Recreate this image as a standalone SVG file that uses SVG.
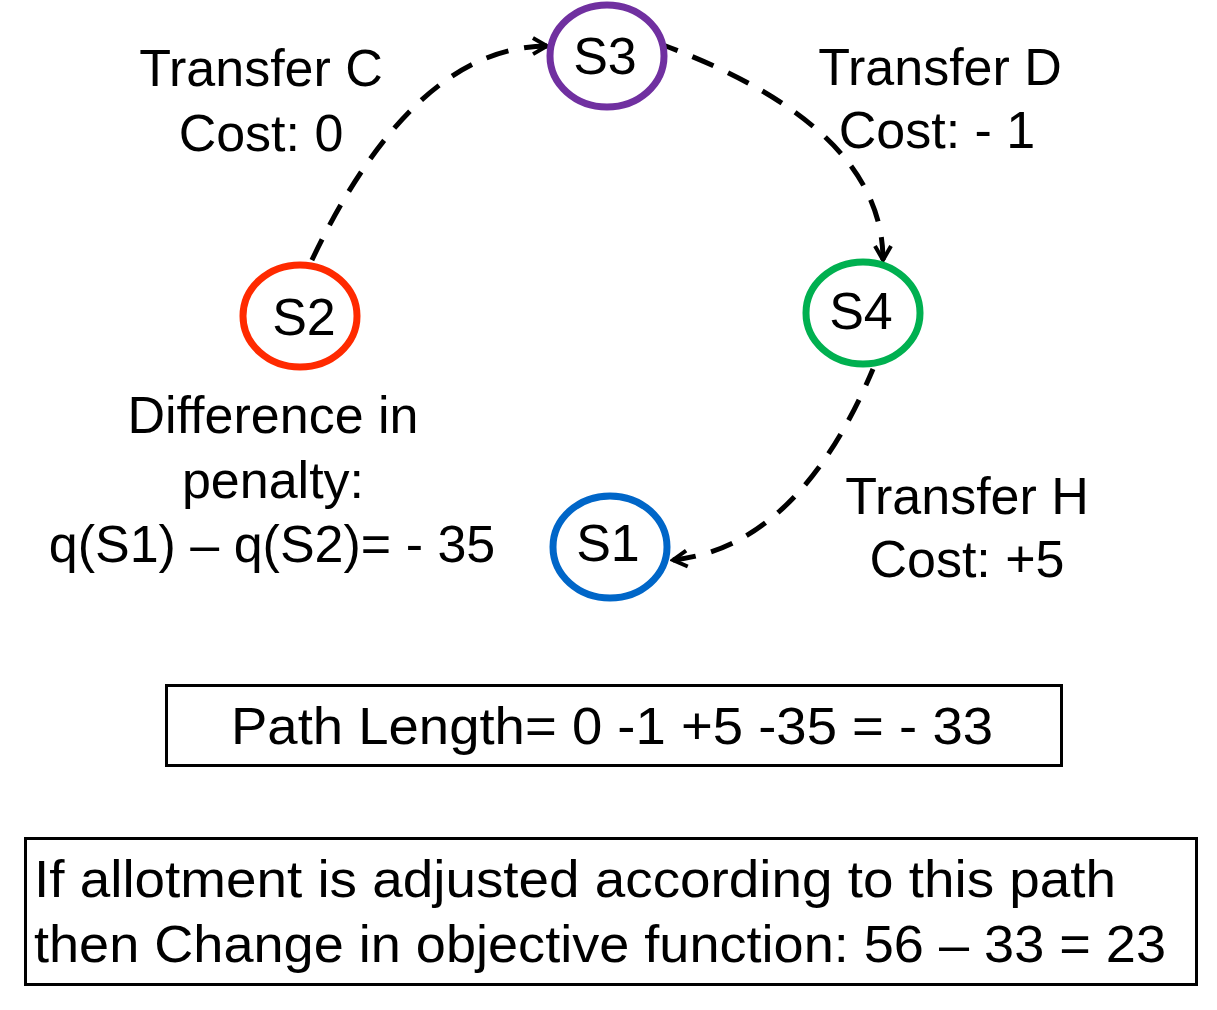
<svg xmlns="http://www.w3.org/2000/svg" width="1217" height="1010" viewBox="0 0 1217 1010">
  <defs>
    <style>
      text { font-family: "Liberation Sans", Arial, Helvetica, sans-serif; fill: #000; }
      .lbl { font-size: 52px; text-anchor: middle; }
      .node { font-size: 52px; text-anchor: middle; }
      .box-text { font-size: 52px; }
      .ring { fill: #fff; stroke-width: 7; }
      .edge { fill: none; stroke: #000; stroke-width: 5; stroke-dasharray: 23 16; marker-start: url(#arrow); }
      .box { fill: #fff; stroke: #000; stroke-width: 3; }
    </style>
    <marker id="arrow" markerUnits="userSpaceOnUse" markerWidth="22" markerHeight="22" viewBox="0 0 22 22" refX="19" refY="11" orient="auto-start-reverse">
      <path d="M5,3 L19,11 L5,19" fill="none" stroke="#000" stroke-width="4" stroke-linejoin="miter"/>
    </marker>
  </defs>

  <g id="connectors">
    <path class="edge" d="M547,46 Q413,47 311,262"/>
    <path class="edge" d="M883,260 Q883,127 663,45"/>
    <path class="edge" d="M673,560 Q798,547 873,369"/>
  </g>

  <g id="node-S3">
    <ellipse class="ring" cx="607" cy="56" rx="57" ry="51" stroke="#7030A0"/>
    <text class="node" x="605" y="74">S3</text>
  </g>
  <g id="node-S2">
    <ellipse class="ring" cx="300" cy="316" rx="57" ry="51" stroke="#FF2A00"/>
    <text class="node" x="304" y="335">S2</text>
  </g>
  <g id="node-S4">
    <ellipse class="ring" cx="863" cy="313" rx="57" ry="51" stroke="#00B050"/>
    <text class="node" x="861" y="329">S4</text>
  </g>
  <g id="node-S1">
    <ellipse class="ring" cx="610" cy="547" rx="57" ry="51" stroke="#0066C8"/>
    <text class="node" x="608" y="561">S1</text>
  </g>

  <g id="label-C">
    <text class="lbl" x="261" y="86">Transfer C</text>
    <text class="lbl" x="261" y="151">Cost: 0</text>
  </g>
  <g id="label-D">
    <text class="lbl" x="940" y="85">Transfer D</text>
    <text class="lbl" x="937" y="148">Cost: - 1</text>
  </g>
  <g id="label-H">
    <text class="lbl" x="967" y="514">Transfer H</text>
    <text class="lbl" x="967" y="577">Cost: +5</text>
  </g>
  <g id="label-penalty">
    <text class="lbl" x="273" y="433">Difference in</text>
    <text class="lbl" x="273" y="498">penalty:</text>
    <text class="lbl" x="272" y="562">q(S1) – q(S2)= - 35</text>
  </g>

  <g id="box-path-length">
    <rect class="box" x="166.5" y="685.5" width="895" height="80"/>
    <text class="box-text" x="231" y="744" textLength="762" lengthAdjust="spacingAndGlyphs">Path Length= 0 -1 +5 -35 = - 33</text>
  </g>

  <g id="box-objective">
    <rect class="box" x="25.5" y="838.5" width="1171" height="146"/>
    <text class="box-text" x="34" y="897" textLength="1082" lengthAdjust="spacingAndGlyphs">If allotment is adjusted according to this path</text>
    <text class="box-text" x="34" y="962" textLength="1132" lengthAdjust="spacingAndGlyphs">then Change in objective function: 56 – 33 = 23</text>
  </g>
</svg>
